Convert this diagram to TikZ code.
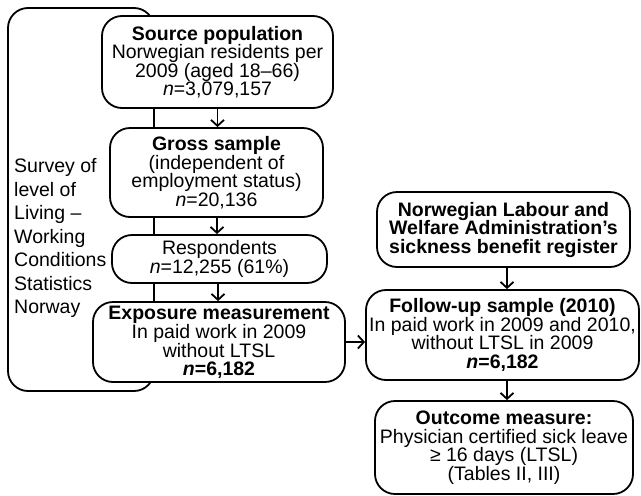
\documentclass[tikz,border=0pt]{standalone}
\usepackage{fontspec}
\setmainfont{Liberation Sans}
\usetikzlibrary{arrows.meta}
\begin{document}
\begin{tikzpicture}[x=1pt,y=1pt,
  every node/.style={inner sep=0pt},
  box/.style={draw, line width=1.8pt, rounded corners=20pt, fill=white, align=center,
    font=\fontsize{19.5}{18.5}\selectfont},
  arr/.style={line width=1.8pt, -{Straight Barb[length=6pt,width=13pt,line width=1.8pt]}}]
\useasboundingbox (0,0) rectangle (641,-496);
% large survey frame
\draw[line width=1.8pt, rounded corners=20pt] (8,-8) rectangle (154,-391);
\node[anchor=west, align=left, font=\fontsize{19.5}{23.5}\selectfont] (survey) at (14,-238)
  {Survey of\\level of\\Living --\\Working\\Conditions\\Statistics\\Norway};
\node[box, minimum width=231pt, minimum height=92pt] (source) at (217.5,-62)
  {\textbf{Source population}\\Norwegian residents per\\2009 (aged 18--66)\\\textit{n}=3,079,157};
\node[box, minimum width=213pt, minimum height=89pt] (gross) at (216.5,-172.5)
  {\textbf{Gross sample}\\(independent of\\employment status)\\\textit{n}=20,136};
\node[box, minimum width=215pt, minimum height=48pt] (resp) at (219.5,-259)
  {Respondents\\\textit{n}=12,255 (61\%)};
\node[box, minimum width=252pt, minimum height=80pt, font=\fontsize{19.5}{18}\selectfont] (expo) at (219,-342)
  {\textbf{Exposure measurement}\\In paid work in 2009\\without LTSL\\\textbf{\textit{n}=6,182}};
\node[box, minimum width=253pt, minimum height=75pt] (nlwa) at (503.5,-229.5)
  {\textbf{Norwegian Labour and}\\\textbf{Welfare Administration’s}\\\textbf{sickness benefit register}};
\node[box, minimum width=273pt, minimum height=90pt] (follow) at (502.5,-335)
  {\textbf{Follow-up sample (2010)}\\In paid work in 2009 and 2010,\\without LTSL in 2009\\\textbf{\textit{n}=6,182}};
\node[box, minimum width=258pt, minimum height=93pt] (outcome) at (504,-447.5)
  {\textbf{Outcome measure:}\\Physician certified sick leave\\≥ 16 days (LTSL)\\(Tables II, III)};
% connectors
\draw[arr] (source.south) -- (source.south |- gross.north);
\draw[arr] (gross.south) ++(0.5,0) coordinate (g1) -- (g1 |- resp.north);
\draw[arr] (resp.south) ++(-1.5,0) coordinate (r1) -- (r1 |- expo.north);
\draw[arr] (expo.east) -- (expo.east -| follow.west);
\draw[arr] (nlwa.south) ++(3.5,0) coordinate (n1) -- (n1 |- follow.north);
\draw[arr] (follow.south) ++(4.5,0) coordinate (f1) -- (f1 |- outcome.north);
\end{tikzpicture}
\end{document}
